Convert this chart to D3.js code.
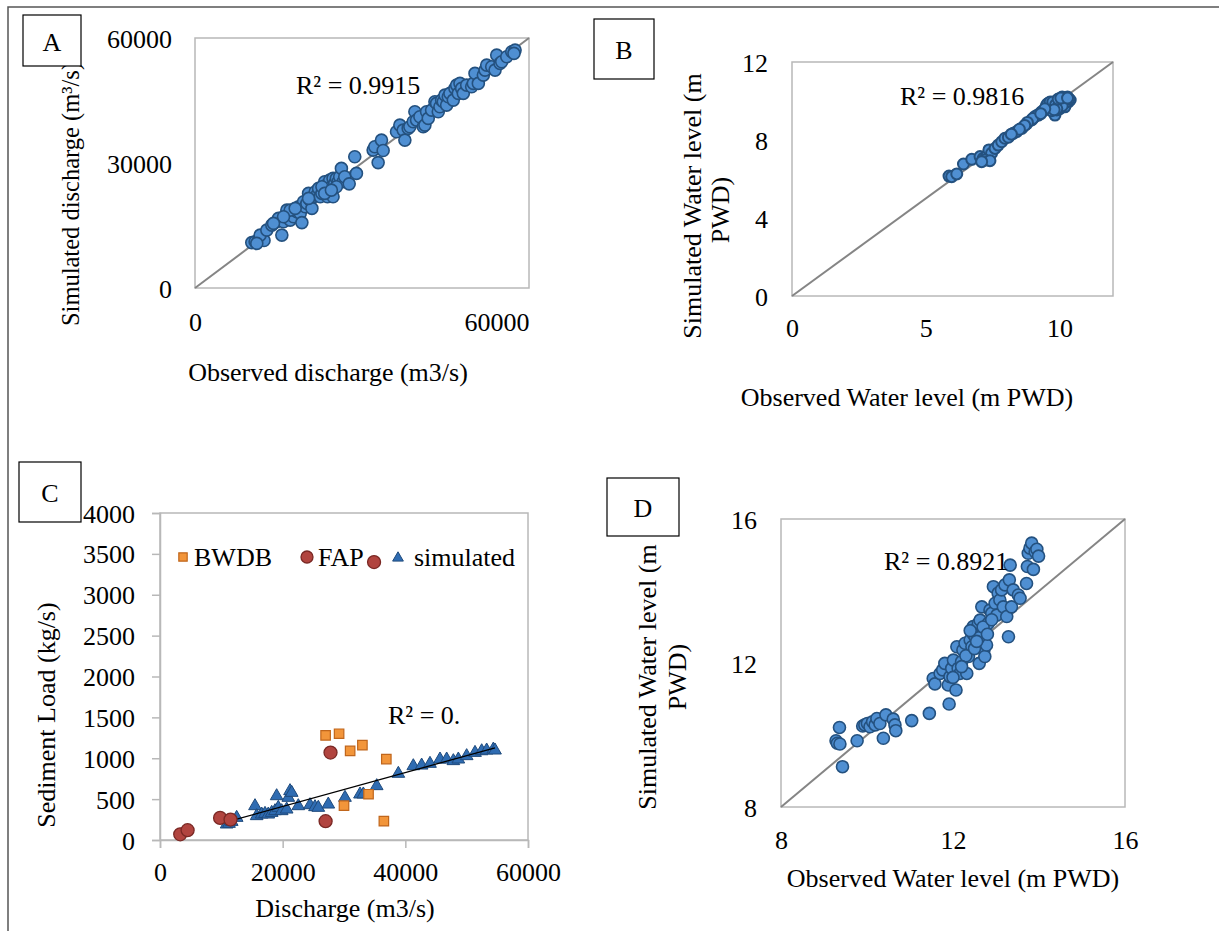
<!DOCTYPE html>
<html>
<head>
<meta charset="utf-8">
<script src="https://cdn.jsdelivr.net/npm/d3@7"></script>
<style>
  body { margin: 0; background: #fff; }
  text { font-family: "Liberation Serif", "Times New Roman", serif; fill: #000; }
</style>
</head>
<body>
<div id="chart"></div>
<script>
'use strict';

// Panel A: observed vs simulated discharge (m3/s)
const dischargePoints = [[10200,10900],[10800,11100],[11400,11500],[12000,11900],[12400,11400],[11700,12700],[12900,13900],[13800,15100],[14700,15900],[15000,16700],[15600,12700],[15900,15900],[16200,17100],[16500,18700],[16800,17500],[17100,16300],[17400,18300],[17700,17100],[18300,18300],[18600,19500],[18900,17900],[19200,15700],[19500,20700],[19800,19500],[20100,20300],[20400,22700],[20700,21100],[21000,19100],[21300,21900],[21600,23100],[21900,22300],[22200,23900],[22500,21900],[22800,22700],[23100,24300],[23300,25500],[23600,24700],[23800,21900],[23900,23500],[24200,25900],[24500,24300],[24800,26300],[24800,21900],[25100,25100],[25400,26300],[25700,25500],[26000,26700],[26300,28700],[26600,25500],[26900,26700],[27700,25000],[28700,31500],[29000,27500],[32000,33100],[32300,33900],[32900,30100],[33500,35500],[33800,33000],[36200,37500],[36800,39100],[37400,37900],[37700,35500],[38300,38300],[38600,38700],[39200,39900],[39500,42300],[39800,40300],[40400,41100],[41000,38700],[41300,39100],[41600,42300],[41900,40700],[42500,42700],[43100,44700],[43400,44300],[43700,42300],[44000,43500],[44300,45100],[44600,44700],[44900,46300],[45200,43900],[45500,45900],[45800,46700],[46400,45100],[46700,47900],[47000,48700],[47300,46700],[47600,49100],[47900,47900],[48200,46700],[48800,48700],[49700,48300],[50000,49100],[50300,51500],[50900,49100],[51800,51100],[52100,52300],[52400,53500],[53300,53100],[53900,52300],[54200,55900],[54800,53900],[55100,54300],[56000,55500],[56900,56700],[57500,57100],[57300,56300],[17100,18700],[18000,19100],[20400,21500],[22800,24300],[25400,24300],[23300,22700],[24500,23500],[15900,17100],[14100,15500],[11100,10700]];
const dischargeTicks = [0, 30000, 60000];
const dischargeXTicks = [0, 60000];
const dischargeR2 = "R² = 0.9915";

// Panel B: observed vs simulated water level (m PWD)
const levelPointsB = [[5.87,6.15],[5.97,6.12],[6.16,6.26],[6.41,6.77],[6.72,7.01],[7.03,7.15],[7.15,7.06],[7.28,7.18],[7.36,7.49],[7.46,7.32],[7.59,7.57],[7.71,7.74],[7.84,7.91],[7.96,8.09],[8.09,8.14],[8.27,8.34],[8.40,8.43],[8.59,8.60],[8.77,8.82],[8.96,9.03],[9.08,9.20],[9.21,9.28],[9.33,9.45],[9.52,9.79],[9.58,9.62],[9.71,9.71],[9.77,9.88],[9.83,9.28],[9.90,9.54],[9.96,9.88],[10.02,10.05],[10.08,9.96],[10.15,10.09],[10.21,10.05],[10.27,10.14],[10.33,9.96],[10.40,10.05],[7.21,6.97],[7.40,6.94],[7.09,6.89],[9.6,9.9],[9.8,9.7],[10.0,9.8],[10.1,10.2],[10.2,9.9],[10.3,10.2],[9.9,10.0],[10.0,9.6],[10.2,9.7],[9.7,9.5],[9.4,9.5],[9.2,9.3],[9.0,9.1],[8.8,8.9],[9.55,9.85],[9.65,9.95],[9.75,9.95],[9.85,9.8],[9.95,9.7],[10.05,9.9],[10.15,9.85],[10.25,9.95],[10.35,10.1],[10.1,9.75],[9.9,9.6],[9.8,9.55],[9.95,10.1],[10.05,10.15],[10.3,10.15],[9.45,9.6],[9.3,9.35],[8.7,8.75],[8.5,8.55],[8.2,8.3]];
const levelTicksB = [0, 4, 8, 12];
const levelXTicksB = [0, 5, 10];
const levelR2B = "R² = 0.9816";

// Panel C: sediment load vs discharge
const bwdbPoints = [[27000,1280],[29200,1300],[31000,1090],[33000,1160],[36900,990],[30000,420],[34000,560],[36500,230]];
const fapPoints = [[3300,70],[4500,120],[9800,270],[11500,250],[27000,230],[27800,1070],[34900,3400]];
const simulatedPoints = [[10870,204],[11250,212],[11690,236],[12500,285],[15490,428],[15760,306],[16580,326],[17120,334],[17660,326],[18210,346],[18750,367],[19020,550],[19290,408],[19840,367],[20650,387],[20920,530],[21200,612],[21470,591],[22550,428],[24460,440],[25270,416],[25810,408],[27440,448],[30160,530],[32610,571],[33150,571],[35330,673],[38860,824],[41300,917],[42660,925],[44020,946],[45650,999],[46740,999],[47830,979],[48640,999],[50000,1040],[51360,1080],[52450,1100],[53260,1109],[54350,1121],[54620,1109]];
const sedimentTicks = [0, 500, 1000, 1500, 2000, 2500, 3000, 3500, 4000];
const sedimentXTicks = [0, 20000, 40000, 60000];
const sedimentSeries = ["BWDB", "FAP", "simulated"];
const sedimentR2 = "R² = 0.";

// Panel D: observed vs simulated water level (m PWD), second station
const levelPointsD = [[9.36,10.21],[9.28,9.84],[9.31,9.77],[9.37,9.75],[9.43,9.12],[9.77,9.84],[9.90,10.25],[9.95,10.28],[10.01,10.32],[10.07,10.23],[10.13,10.37],[10.19,10.28],[10.23,10.46],[10.30,10.32],[10.38,9.91],[10.44,10.56],[10.61,10.44],[10.65,10.28],[10.67,10.12],[11.04,10.40],[11.45,10.60],[11.91,10.86],[11.54,11.57],[11.58,11.42],[11.70,11.71],[11.76,11.81],[11.81,11.99],[11.89,11.39],[11.93,11.62],[11.97,11.85],[12.01,12.08],[12.07,11.25],[12.09,12.45],[12.12,11.85],[12.16,11.71],[12.20,12.04],[12.23,12.36],[12.28,12.55],[12.32,11.71],[12.36,12.18],[12.40,12.64],[12.44,12.45],[12.46,12.82],[12.47,13.01],[12.51,12.73],[12.55,12.96],[12.59,13.10],[12.61,11.99],[12.63,13.19],[12.67,13.56],[12.70,12.92],[12.72,12.36],[12.74,12.18],[12.78,12.50],[12.82,13.10],[12.86,13.47],[12.90,13.38],[12.94,14.12],[12.98,13.66],[13.02,13.33],[13.05,13.94],[13.09,13.75],[13.13,14.03],[13.17,13.56],[13.21,14.17],[13.25,13.29],[13.29,12.73],[13.31,14.31],[13.33,14.72],[13.36,13.56],[13.40,14.03],[13.52,13.89],[13.56,13.80],[13.71,14.21],[13.73,14.68],[13.75,15.05],[13.79,15.19],[13.83,15.33],[13.87,14.60],[13.91,15.09],[13.95,15.16],[13.99,14.97],[12.3,12.2],[12.5,12.4],[12.6,12.7],[12.4,12.9],[12.7,13.0],[12.2,11.9],[12.0,11.6],[12.8,12.8],[12.9,13.2],[12.55,12.6]];
const levelTicksD = [8, 12, 16];
const levelR2D = "R² = 0.8921";

const FS = 26;
const BLUE_FILL = "#4f8fd2", BLUE_STROKE = "#24517f";
const BOX_GREY = "#b8b8b8", DIAG_GREY = "#858585";

const svg = d3.select("#chart").append("svg")
    .attr("width", 1219)
    .attr("height", 931)
    .style("background", "#fff");

// outer frame (only top and left edges show)
svg.append("path")
    .attr("d", "M8,931 V7 H1219")
    .attr("fill", "none")
    .attr("stroke", "#555")
    .attr("stroke-width", 1.5);

// text helper
const label = (x, y, str, anchor, rotate, size) => {
    return svg.append("text")
        .attr("transform", "translate(" + x + "," + y + ")" + (rotate ? " rotate(-90)" : ""))
        .attr("text-anchor", anchor || "middle")
        .attr("dy", "0.35em")
        .style("font-size", (size || FS) + "px")
        .text(str);
}

const panelTag = (x0, y0, x1, y1, str) => {
    svg.append("rect")
        .attr("x", x0).attr("y", y0)
        .attr("width", x1 - x0).attr("height", y1 - y0)
        .attr("fill", "#fff").attr("stroke", "#000").attr("stroke-width", 1.2);
    label((x0 + x1) / 2, (y0 + y1) / 2 + 1, str);
}

// restyles d3 axis labels: shift and anchor
const styleTicks = (g, dx, dy, anchor) => {
    g.attr("font-family", null).attr("font-size", null);
    g.selectAll(".tick text")
        .attr("x", dx).attr("y", dy).attr("dy", "0.35em")
        .attr("text-anchor", anchor)
        .style("font-size", FS + "px");
}

const drawBox = (x, y) => {
    svg.append("rect")
        .attr("x", x.range()[0]).attr("y", y.range()[1])
        .attr("width", x.range()[1] - x.range()[0])
        .attr("height", y.range()[0] - y.range()[1])
        .attr("fill", "none").attr("stroke", BOX_GREY).attr("stroke-width", 1.5);
}

const drawDiagonal = (x, y) => {
    const d = x.domain();
    svg.append("line")
        .attr("x1", x(d[0])).attr("y1", y(d[0]))
        .attr("x2", x(d[1])).attr("y2", y(d[1]))
        .attr("stroke", DIAG_GREY).attr("stroke-width", 2);
}

const plainAxes = (x, y, yTicks, xTicks, yPad, xOff, fmt) => {
    const gy = svg.append("g")
        .attr("transform", "translate(" + x.range()[0] + ",0)")
        .call(d3.axisLeft(y).tickValues(yTicks).tickSize(0).tickFormat(fmt));
    gy.select(".domain").remove();
    styleTicks(gy, -yPad, 0, "end");

    const gx = svg.append("g")
        .attr("transform", "translate(0," + y.range()[0] + ")")
        .call(d3.axisBottom(x).tickValues(xTicks).tickSize(0).tickFormat(fmt));
    gx.select(".domain").remove();
    styleTicks(gx, 0, xOff, "middle");
    return gx;
}

const drawCircles = (data, x, y, r, sw) => {
    svg.append("g").selectAll("circle")
        .data(data)
        .enter()
        .append("circle")
        .attr("cx", d => x(d[0]))
        .attr("cy", d => y(d[1]))
        .attr("r", r)
        .attr("fill", BLUE_FILL)
        .attr("stroke", BLUE_STROKE)
        .attr("stroke-width", sw || 1.6);
}

// ---------- Panel A ----------
const plotA = () => {
    const x = d3.scaleLinear().domain([0, 60000]).range([195, 529]);
    const y = d3.scaleLinear().domain([0, 60000]).range([288, 38]);
    drawBox(x, y);
    drawDiagonal(x, y);
    const gx = plainAxes(x, y, dischargeTicks, dischargeXTicks, 23, 34, d3.format("d"));
    gx.selectAll(".tick text").filter(d => d === 60000).attr("text-anchor", "end");
    drawCircles(dischargePoints, x, y, 6);
    label(296, 85, dischargeR2, "start");
    label(328, 372, "Observed discharge (m3/s)");
    label(70, 194, "Simulated discharge (m³/s)", "middle", true, 24.5);
    panelTag(23, 15, 81, 66, "A");
}

// ---------- Panel B ----------
const plotB = () => {
    const x = d3.scaleLinear().domain([0, 12]).range([792, 1113]);
    const y = d3.scaleLinear().domain([0, 12]).range([296, 62]);
    drawBox(x, y);
    drawDiagonal(x, y);
    plainAxes(x, y, levelTicksB, levelXTicksB, 24, 32, d3.format("d"));
    drawCircles(levelPointsB, x, y, 5.5, 2);
    label(900, 96, levelR2B, "start");
    label(907, 397, "Observed Water level (m PWD)");
    label(692, 206, "Simulated Water level (m", "middle", true);
    label(720, 210, "PWD)", "middle", true);
    panelTag(594, 19, 654, 79, "B");
}

// ---------- Panel C ----------
const plotC = () => {
    const x = d3.scaleLinear().domain([0, 60000]).range([160, 528]);
    const y = d3.scaleLinear().domain([0, 4000]).range([840, 513]);
    drawBox(x, y);

    const gy = svg.append("g")
        .attr("transform", "translate(160,0)")
        .call(d3.axisLeft(y).tickValues(sedimentTicks).tickSize(8).tickFormat(d3.format("d")));
    gy.selectAll("line, path").attr("stroke", BOX_GREY).attr("stroke-width", 1.5);
    styleTicks(gy, -25, 0, "end");

    const gx = svg.append("g")
        .attr("transform", "translate(0,840)")
        .call(d3.axisBottom(x).tickValues(sedimentXTicks).tickSize(8).tickFormat(d3.format("d")));
    gx.selectAll("line, path").attr("stroke", BOX_GREY).attr("stroke-width", 1.5);
    styleTicks(gx, 0, 32, "middle");

    const square = d3.symbol(d3.symbolSquare).size(90);
    const triangle = d3.symbol(d3.symbolTriangle).size(70);

    // linear trend of simulated values
    const mx = d3.mean(simulatedPoints, d => d[0]);
    const my = d3.mean(simulatedPoints, d => d[1]);
    const slope = d3.sum(simulatedPoints, d => (d[0] - mx) * (d[1] - my)) / d3.sum(simulatedPoints, d => (d[0] - mx) ** 2);
    const ext = d3.extent(simulatedPoints, d => d[0]);
    const trend = ext.map(v => [v, my + slope * (v - mx)]);

    svg.append("g").selectAll("path")
        .data(simulatedPoints).enter().append("path")
        .attr("d", triangle)
        .attr("transform", d => "translate(" + x(d[0]) + "," + (y(d[1]) + 1) + ")")
        .attr("fill", "#2f6cb2").attr("stroke", "#1f4a7c").attr("stroke-width", 1);

    svg.append("path")
        .datum(trend)
        .attr("d", d3.line().x(d => x(d[0])).y(d => y(d[1])))
        .attr("stroke", "#000").attr("stroke-width", 1.3).attr("fill", "none");

    svg.append("g").selectAll("path")
        .data(bwdbPoints).enter().append("path")
        .attr("d", square)
        .attr("transform", d => "translate(" + x(d[0]) + "," + y(d[1]) + ")")
        .attr("fill", "#f2953a").attr("stroke", "#c0661c").attr("stroke-width", 1.2);

    svg.append("g").selectAll("circle")
        .data(fapPoints).enter().append("circle")
        .attr("cx", d => x(d[0])).attr("cy", d => y(d[1]))
        .attr("r", 6.5)
        .attr("fill", "#b1443f").attr("stroke", "#7a2824").attr("stroke-width", 1.3);

    // legend
    const ly = 557;
    svg.append("path").attr("d", d3.symbol(d3.symbolSquare).size(70))
        .attr("transform", "translate(183," + ly + ")")
        .attr("fill", "#f2953a").attr("stroke", "#c0661c").attr("stroke-width", 1.2);
    label(194, ly, sedimentSeries[0], "start");
    svg.append("circle").attr("cx", 307).attr("cy", ly).attr("r", 6)
        .attr("fill", "#b1443f").attr("stroke", "#7a2824").attr("stroke-width", 1.3);
    label(318, ly, sedimentSeries[1], "start");
    svg.append("path").attr("d", d3.symbol(d3.symbolTriangle).size(50))
        .attr("transform", "translate(398," + (ly + 1) + ")")
        .attr("fill", "#2f6cb2").attr("stroke", "#1f4a7c").attr("stroke-width", 1);
    label(414, ly, sedimentSeries[2], "start");

    label(388, 715, sedimentR2, "start");
    label(345, 908, "Discharge (m3/s)");
    label(46, 715, "Sediment Load (kg/s)", "middle", true);
    panelTag(19, 462, 81, 522, "C");
}

// ---------- Panel D ----------
const plotD = () => {
    const x = d3.scaleLinear().domain([8, 16]).range([781, 1125]);
    const y = d3.scaleLinear().domain([8, 16]).range([807, 519]);
    drawBox(x, y);
    drawDiagonal(x, y);
    plainAxes(x, y, levelTicksD, levelTicksD, 24, 33, d3.format("d"));
    drawCircles(levelPointsD, x, y, 6);
    label(884, 561, levelR2D, "start");
    label(953, 878, "Observed Water level (m PWD)");
    label(647, 677, "Simulated Water level (m", "middle", true);
    label(677, 677, "PWD)", "middle", true);
    panelTag(607, 478, 679, 536, "D");
}

plotA();
plotB();
plotC();
plotD();
</script>
</body>
</html>
